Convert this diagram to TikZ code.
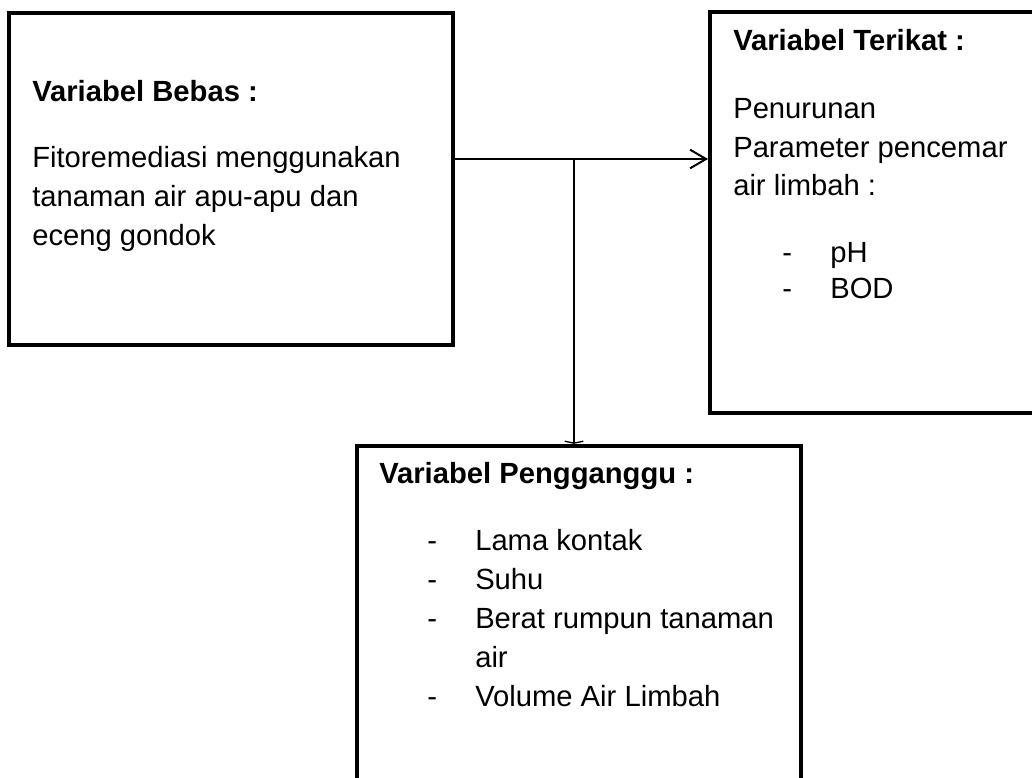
\documentclass[tikz,border=0pt]{standalone}
\usepackage{fontspec}
\setmainfont{Liberation Sans}
\usetikzlibrary{arrows.meta}

\tikzset{
  varbox/.style={rectangle,draw=black,line width=3.2pt,inner sep=0pt},
  heading/.style={anchor=base west,inner sep=0pt,font=\fontsize{21.9pt}{29pt}\selectfont\bfseries},
  plain/.style={anchor=base west,inner sep=0pt,font=\fontsize{21.9pt}{29pt}\selectfont},
  link/.style={line width=1.5pt}
}

\begin{document}
\begin{tikzpicture}[x=0.75pt,y=-0.75pt]
\clip (0,0) rectangle (1032,778);
\fill[white] (0,0) rectangle (1032,778);
% the three boxes
\node[varbox,minimum width=333pt,minimum height=249pt] (bebas) at (231,179) {};
\node[varbox,minimum width=251pt,minimum height=300.75pt] (terikat) at (877.5,212.5) {};
\node[varbox,minimum width=333pt,minimum height=258pt] (pengganggu) at (579,618) {};
% Variabel Bebas
\node[heading] (hbebas) at (32,101) {Variabel Bebas :};
\node[plain] (b1) at (32,167) {Fitoremediasi menggunakan};
\node[plain] (b2) at (32,206) {tanaman air apu-apu dan};
\node[plain] (b3) at (32,245) {eceng gondok};
% Variabel Terikat
\node[heading] (hterikat) at (733,50) {Variabel Terikat :};
\node[plain] (t1) at (733,118) {Penurunan};
\node[plain] (t2) at (733,157) {Parameter pencemar};
\node[plain] (t3) at (733,195) {air limbah :};
\foreach \yy/\txt in {262/pH,298/BOD}
{
        \node[plain] (td\yy) at (782,\yy) {-};
        \node[plain] (ti\yy) at (830,\yy) {\txt};
}
% Variabel Pengganggu
\node[heading] (hpengganggu) at (379,483) {Variabel Pengganggu :};
\foreach \yy/\txt in {550/Lama kontak,589/Suhu,628/Berat rumpun tanaman,706/Volume Air Limbah}
{
        \node[plain] (pd\yy) at (427,\yy) {-};
        \node[plain] (pi\yy) at (475,\yy) {\txt};
}
\node[plain] (pi667) at (475,667) {air};
% connectors
\coordinate (split) at (574,159);
\draw[link,-{Straight Barb[length=12pt,width=14pt,line width=1.5pt]}]
  (bebas.east |- split) -- (terikat.west |- split);
\draw[link,-{Straight Barb[length=1.5pt,width=14pt,line width=1pt]}]
  (split) -- (pengganggu.north -| split);
\end{tikzpicture}
\end{document}
